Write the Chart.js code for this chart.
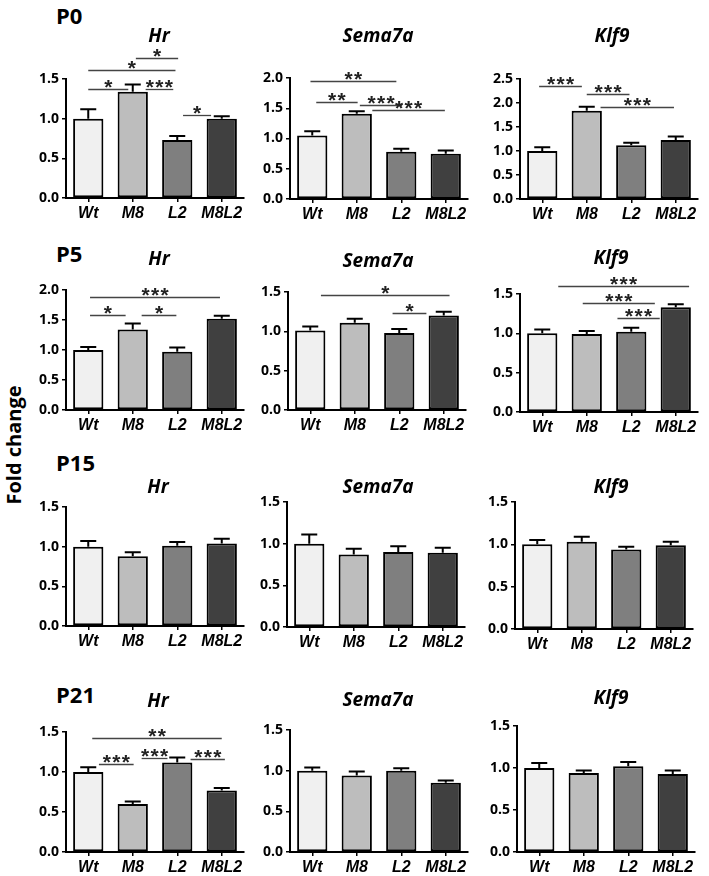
<!DOCTYPE html>
<html>
<head>
<meta charset="utf-8">
<script src="https://cdn.jsdelivr.net/npm/chart.js@4.4.1/dist/chart.umd.min.js"></script>
<style>
  body { margin: 0; background: #fff; width: 709px; height: 876px; position: relative; overflow: hidden; font-family: "Open Sans", sans-serif; }
  .panel { position: absolute; }
  .rowlab { position: absolute; left: 56px; font-weight: 700; font-size: 22px; transform: translateY(-50%); line-height: 1; }
  .gene { position: absolute; font-weight: 700; font-style: italic; font-size: 19px; transform: translate(-50%, -50%); white-space: nowrap; line-height: 1; }
  #ylab { position: absolute; left: 13px; top: 445px; transform: translate(-50%, -50%) rotate(-90deg); font-weight: 700; font-size: 20px; white-space: nowrap; }
</style>
</head>
<body>
<div id="ylab">Fold change</div>

<script>
/* =======================
   DATA
======================= */

const groups = ["Wt", "M8", "L2", "M8L2"];
const genes = ["Hr", "Sema7a", "Klf9"];
const ages = ["P0", "P5", "P15", "P21"];

// mean fold change + SEM, per age and gene
const p0HrMean = [1.00, 1.34, 0.73, 1.00];
const p0HrSem = [0.12, 0.09, 0.05, 0.03];
const p0SemaMean = [1.05, 1.41, 0.78, 0.75];
const p0SemaSem = [0.07, 0.04, 0.05, 0.05];
const p0Klf9Mean = [1.00, 1.84, 1.12, 1.23];
const p0Klf9Sem = [0.08, 0.08, 0.05, 0.07];

const p5HrMean = [1.00, 1.34, 0.97, 1.52];
const p5HrSem = [0.05, 0.10, 0.07, 0.05];
const p5SemaMean = [1.01, 1.11, 0.98, 1.20];
const p5SemaSem = [0.05, 0.05, 0.05, 0.05];
const p5Klf9Mean = [1.00, 0.99, 1.02, 1.33];
const p5Klf9Sem = [0.05, 0.04, 0.05, 0.04];

const p15HrMean = [1.00, 0.88, 1.01, 1.04];
const p15HrSem = [0.07, 0.05, 0.05, 0.06];
const p15SemaMean = [1.00, 0.87, 0.90, 0.89];
const p15SemaSem = [0.11, 0.07, 0.07, 0.06];
const p15Klf9Mean = [1.00, 1.03, 0.94, 0.99];
const p15Klf9Sem = [0.05, 0.06, 0.03, 0.04];

const p21HrMean = [1.00, 0.60, 1.12, 0.77];
const p21HrSem = [0.06, 0.03, 0.06, 0.03];
const p21SemaMean = [1.00, 0.94, 1.00, 0.85];
const p21SemaSem = [0.04, 0.05, 0.03, 0.03];
const p21Klf9Mean = [1.00, 0.94, 1.02, 0.93];
const p21Klf9Sem = [0.06, 0.03, 0.05, 0.04];

// y axis max per panel
const yMax = [1.5, 2.0, 2.5, 2.0, 1.5, 1.5, 1.5, 1.5, 1.5, 1.5, 1.5, 1.5];

// significance lines: [from category, to category, level, stars]
const p0HrSig = [[0, 0.9, 1.38, "*"], [0, 1.96, 1.61, "*"], [1.29, 1.91, 1.38, "***"], [1.07, 2.02, 1.77, "*"], [2.13, 2.76, 1.05, "*"]];
const p0SemaSig = [[-0.04, 1.89, 1.95, "**"], [0.09, 1.02, 1.61, "**"], [1.07, 2.02, 1.56, "***"], [1.35, 2.98, 1.47, "***"]];
const p0Klf9Sig = [[-0.07, 0.89, 2.36, "***"], [1.0, 1.96, 2.19, "***"], [1.31, 2.96, 1.91, "***"]];
const p5HrSig = [[0.04, 2.96, 1.88, "***"], [0.04, 0.84, 1.58, "*"], [1.2, 1.98, 1.58, "*"]];
const p5SemaSig = [[0.24, 3.13, 1.46, "*"], [1.85, 2.61, 1.23, "*"]];
const p5Klf9Sig = [[0.36, 3.3, 1.60, "***"], [0.91, 2.53, 1.39, "***"], [1.69, 2.64, 1.19, "***"]];
const p21HrSig = [[0.09, 3.0, 1.43, "**"], [0.24, 1.02, 1.10, "***"], [1.2, 1.78, 1.17, "***"], [2.3, 3.07, 1.16, "***"]];

const means = [p0HrMean, p0SemaMean, p0Klf9Mean, p5HrMean, p5SemaMean, p5Klf9Mean,
               p15HrMean, p15SemaMean, p15Klf9Mean, p21HrMean, p21SemaMean, p21Klf9Mean];
const sems = [p0HrSem, p0SemaSem, p0Klf9Sem, p5HrSem, p5SemaSem, p5Klf9Sem,
              p15HrSem, p15SemaSem, p15Klf9Sem, p21HrSem, p21SemaSem, p21Klf9Sem];
const sigs = [p0HrSig, p0SemaSig, p0Klf9Sig, p5HrSig, p5SemaSig, p5Klf9Sig,
              [], [], [], p21HrSig, [], []];

/* =======================
   LAYOUT
======================= */

// axis x, top pixel (y max), bottom pixel (0.0)
const boxes = [
  [66, 79, 198], [290, 78, 199], [520, 79, 199],
  [66, 290, 410], [288, 292, 410], [520, 294, 412],
  [66, 507, 626], [287, 502, 627], [515, 502, 629],
  [66, 732, 852], [290, 730, 852], [517, 726, 852]
];
const rowLabelY = [15, 253, 462, 694];
const geneTitlePos = [
  [159, 35], [378, 35], [612, 35],
  [159, 258], [378, 260], [611, 257],
  [158, 486], [378, 486], [611, 486],
  [158, 700], [378, 699], [611, 697]
];

const barColors = ["#f0f0f0", "#bdbdbd", "#7f7f7f", "#404040"];
const AXIS_W = 40, PLOT_W = 178, PAD_TOP = 38, PAD_R = 4, XAXIS_H = 30;

/* =======================
   PLUGINS
======================= */

const errorBars = {
  id: "errorBars",
  afterDatasetsDraw(chart, args, opts) {
    const meta = chart.getDatasetMeta(0);
    const y = chart.scales.y;
    const ctx = chart.ctx;
    ctx.save();
    ctx.strokeStyle = "#000";
    ctx.lineWidth = 2;
    meta.data.forEach((bar, i) => {
      const v = chart.data.datasets[0].data[i];
      const top = y.getPixelForValue(v + opts.sem[i]);
      const base = y.getPixelForValue(v);
      ctx.beginPath();
      ctx.moveTo(bar.x, base);
      ctx.lineTo(bar.x, top);
      ctx.moveTo(bar.x - 8, top);
      ctx.lineTo(bar.x + 8, top);
      ctx.stroke();
    });
    ctx.restore();
  }
};

const sigLines = {
  id: "sigLines",
  afterDraw(chart, args, opts) {
    const x = chart.scales.x, y = chart.scales.y, ctx = chart.ctx;
    ctx.save();
    (opts.marks || []).forEach(([a, b, level, stars]) => {
      const x1 = x.getPixelForValue(a), x2 = x.getPixelForValue(b);
      const yy = Math.round(y.getPixelForValue(level)) + 0.5;
      ctx.strokeStyle = "#444";
      ctx.lineWidth = 1.3;
      ctx.beginPath();
      ctx.moveTo(x1, yy);
      ctx.lineTo(x2, yy);
      ctx.stroke();

      ctx.fillStyle = "#222";
      ctx.font = 'bold 21px "Liberation Sans"';
      ctx.textAlign = "center";
      ctx.textBaseline = "alphabetic";
      const mid = (x1 + x2) / 2;
      const step = 9.5;
      for (let k = 0; k < stars.length; k++) {
        const sx = mid + (k - (stars.length - 1) / 2) * step;
        ctx.fillText("*", sx, yy + 4);
      }
    });
    ctx.restore();
  }
};

Chart.register(errorBars, sigLines);

/* =======================
   BUILD PANELS
======================= */

function addText(cls, text, left, top) {
  const d = document.createElement("div");
  d.className = cls;
  d.textContent = text;
  if (left !== null) d.style.left = left + "px";
  d.style.top = top + "px";
  document.body.appendChild(d);
}

ages.forEach((a, r) => addText("rowlab", a, null, rowLabelY[r]));

means.forEach((mean, p) => {
  const [ax, top, bottom] = boxes[p];
  const plotH = bottom - top;
  const W = AXIS_W + PLOT_W + PAD_R;
  const H = PAD_TOP + plotH + XAXIS_H;

  const wrap = document.createElement("div");
  wrap.className = "panel";
  wrap.style.left = (ax - AXIS_W) + "px";
  wrap.style.top = (top - PAD_TOP) + "px";
  const canvas = document.createElement("canvas");
  canvas.width = W;
  canvas.height = H;
  canvas.style.width = W + "px";
  canvas.style.height = H + "px";
  wrap.appendChild(canvas);
  document.body.appendChild(wrap);

  const [tx, ty] = geneTitlePos[p];
  addText("gene", genes[p % 3], tx, ty);

  new Chart(canvas, {
    type: "bar",
    data: {
      labels: groups,
      datasets: [{
        data: mean,
        backgroundColor: barColors,
        borderColor: "#000",
        borderWidth: 2,
        borderSkipped: false,
        barPercentage: 0.68,
        categoryPercentage: 1
      }]
    },
    options: {
      responsive: false,
      animation: false,
      events: [],
      layout: { padding: { top: PAD_TOP, right: PAD_R, left: 0, bottom: 0 } },
      plugins: {
        legend: { display: false },
        tooltip: { enabled: false },
        errorBars: { sem: sems[p] },
        sigLines: { marks: sigs[p] }
      },
      scales: {
        x: {
          afterFit: s => { s.height = XAXIS_H; },
          grid: { display: true, drawOnChartArea: false, drawTicks: true, tickLength: 4, offset: false, color: "#000", lineWidth: 1.5 },
          border: { display: true, color: "#000", width: 2 },
          ticks: {
            color: "#000",
            padding: 2,
            autoSkip: false,
            maxRotation: 0,
            minRotation: 0,
            font: { family: "Liberation Sans", size: 16, weight: "bold", style: "italic" }
          }
        },
        y: {
          min: 0,
          max: yMax[p],
          afterFit: s => { s.width = AXIS_W; },
          grid: { display: true, drawOnChartArea: false, drawTicks: true, tickLength: 4, color: "#000", lineWidth: 1.5 },
          border: { display: true, color: "#000", width: 2 },
          ticks: {
            stepSize: 0.5,
            color: "#000",
            padding: 3,
            callback: v => Number(v).toFixed(1),
            font: { family: "Open Sans", size: 14, weight: "bold" }
          }
        }
      }
    }
  });
});
</script>
</body>
</html>
